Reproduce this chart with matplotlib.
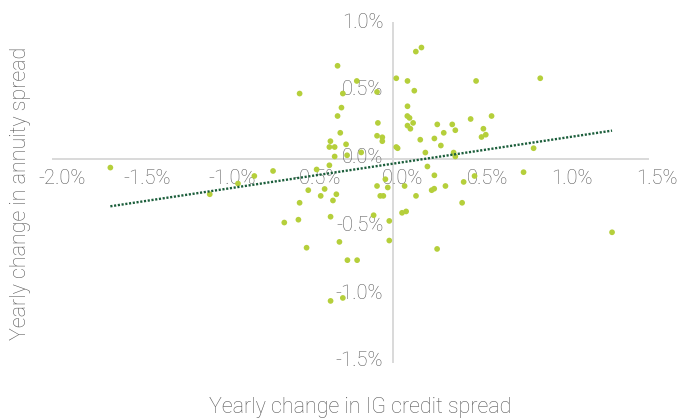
import numpy as np
import matplotlib
matplotlib.use("Agg")
import matplotlib.pyplot as plt
from matplotlib.ticker import FuncFormatter
from matplotlib.transforms import ScaledTranslation

# Yearly change in IG credit spread (%)
ig_change = [
    -1.661, -1.077, -0.911, -0.815, -0.705, -0.639, -0.556, -0.549, -0.549, -0.508,
    -0.498, -0.449, -0.425, -0.402, -0.374, -0.367, -0.368, -0.374, -0.343, -0.343,
    -0.333, -0.353, -0.367, -0.326, -0.326, -0.315, -0.310, -0.303, -0.295, -0.295,
    -0.276, -0.270, -0.268, -0.211, -0.213, -0.187, -0.114, -0.094, -0.089, -0.094,
    -0.063, -0.063, -0.094, -0.075, -0.057, -0.045, -0.031, -0.022, -0.022, 0.019,
    0.019, 0.027, 0.053, 0.077, 0.068, 0.085, 0.085, 0.084, 0.097, 0.085,
    0.102, 0.118, 0.125, 0.134, 0.167, 0.135, 0.160, 0.190, 0.202, 0.227,
    0.242, 0.243, 0.243, 0.259, 0.260, 0.281, 0.298, 0.308, 0.348, 0.356,
    0.366, 0.366, 0.406, 0.415, 0.456, 0.488, 0.479, 0.531, 0.545, 0.520,
    0.579, 0.767, 0.826, 0.865, 1.287,
]
# Yearly change in annuity spread (%)
annuity_change = [
    -0.066, -0.263, -0.184, -0.128, -0.091, -0.472, -0.451, 0.481, -0.326, -0.658,
    -0.233, -0.080, -0.275, -0.224, -0.049, -0.429, 0.129, 0.086, 0.086, 0.016,
    -0.263, -0.309, -1.051, 0.686, 0.315, -0.615, 0.191, 0.377, 0.481, -1.029,
    0.106, 0.025, -0.750, -0.750, 0.574, 0.046, -0.418, 0.493, 0.264, 0.169,
    0.158, 0.129, -0.202, -0.275, -0.275, -0.152, -0.213, -0.460, -0.605, 0.594,
    0.086, 0.077, -0.400, -0.390, -0.202, 0.574, 0.387, 0.315, 0.301, 0.244,
    0.221, 0.264, 0.502, 0.791, 0.821, -0.275, 0.140, 0.045, -0.058, -0.233,
    -0.222, -0.123, 0.149, -0.667, 0.253, 0.097, 0.191, -0.202, 0.253, 0.045,
    0.016, 0.210, -0.326, -0.172, 0.293, 0.574, -0.128, 0.221, 0.177, 0.160,
    0.315, -0.100, 0.077, 0.594, -0.544,
]

# Linear trendline end points
trend_x = [-1.661, 1.287]
trend_y = [-0.352, 0.207]

x_ticks = [-2.0, -1.5, -1.0, -0.5, 0.0, 0.5, 1.0, 1.5]
y_ticks = [-1.5, -1.0, -0.5, 0.0, 0.5, 1.0]
x_title = "Yearly change in IG credit spread"
y_title = "Yearly change in annuity spread"

plt.rcParams['font.family'] = ['Roboto', 'DejaVu Sans']

dpi = 100
fig = plt.figure(figsize=(6.93, 4.19), dpi=dpi)
ax = fig.add_axes([0.0760, 0.1368, 0.8595, 0.8076])

ax.scatter(ig_change, annuity_change, s=17, color='#b5cf3b', edgecolors='none', zorder=2)

ax.plot(trend_x, trend_y, color='#1b5e3b', lw=1.7,
        linestyle=(0, (0.9, 0.7)), dash_capstyle='butt', zorder=2.2)

ax.set_xlim(-2.0, 1.5)
ax.set_ylim(-1.5, 1.0)
ax.set_xticks(x_ticks)
ax.set_yticks(y_ticks)
fmt = FuncFormatter(lambda v, p: f"{v:.1f}%")
ax.xaxis.set_major_formatter(fmt)
ax.yaxis.set_major_formatter(fmt)

for s in ['top', 'right']:
    ax.spines[s].set_visible(False)
for s in ['left', 'bottom']:
    ax.spines[s].set_position('zero')
    ax.spines[s].set_color('#d9d9d9')
    ax.spines[s].set_linewidth(1.4)
    ax.spines[s].set_zorder(0.5)

ax.tick_params(axis='both', length=0, labelsize=14.5, labelcolor='#595959')
ax.tick_params(axis='x', pad=7.5)
ax.tick_params(axis='y', pad=7)
for lab in ax.get_xticklabels():
    lab.set_fontweight('light')
    lab.set_transform(lab.get_transform() + ScaledTranslation(9 / dpi, 0, fig.dpi_scale_trans))
for lab in ax.get_yticklabels():
    lab.set_fontweight('light')
    lab.set_transform(lab.get_transform() + ScaledTranslation(0, 3 / dpi, fig.dpi_scale_trans))

ax.patch.set_visible(False)

fig.text(0.520, 0.0286, x_title, ha='center', va='center', fontsize=15.5,
         color='#595959', fontweight='light')
fig.text(0.0289, 0.539, y_title, ha='center', va='center', fontsize=15.5,
         color='#595959', fontweight='light', rotation=90)

fig.savefig('out.png', dpi=dpi)
